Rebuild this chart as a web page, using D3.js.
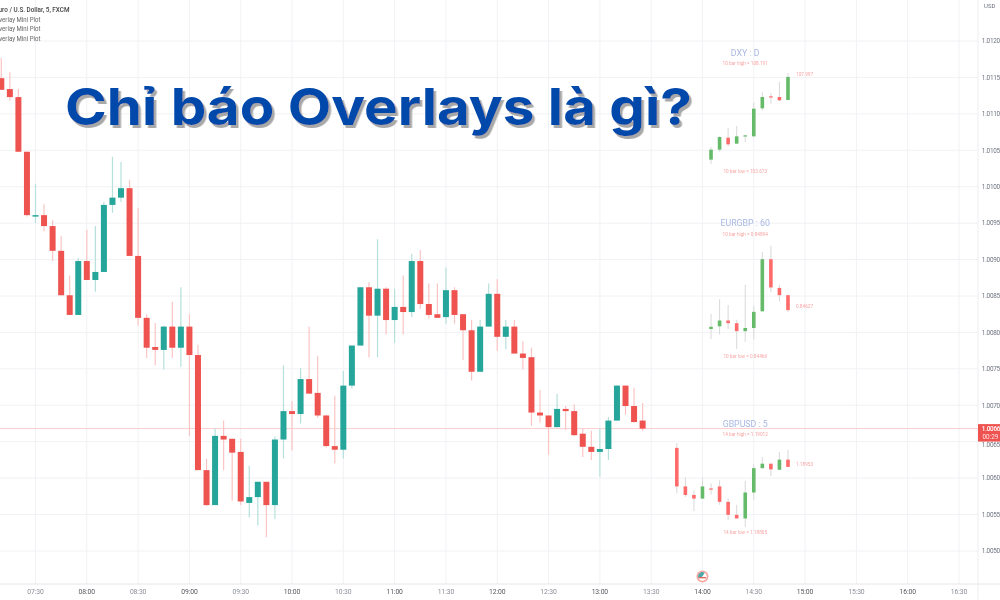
<!DOCTYPE html>
<html><head><meta charset="utf-8">
<script src="https://cdn.jsdelivr.net/npm/d3@7"></script>
<style>html,body{margin:0;padding:0;background:#fff;overflow:hidden}svg{display:block}</style>
</head><body><svg id="c" width="1000" height="600"></svg>
<script>
const titleText = "Chỉ báo Overlays là gì?";
const legendLines = ["Euro / U.S. Dollar, 5, FXCM","Overlay Mini Plot","Overlay Mini Plot","Overlay Mini Plot"];
const priceTicks = [1.0050,1.0055,1.0060,1.0065,1.0070,1.0075,1.0080,1.0085,1.0090,1.0095,1.0100,1.0105,1.0110,1.0115,1.0120];
const timeTicks = ["07:30","08:00","08:30","09:00","09:30","10:00","10:30","11:00","11:30","12:00","12:30","13:00","13:30","14:00","14:30","15:00","15:30","16:00","16:30"];
const lastPrice = 1.00668, lastLabel = "1.0066", countdown = "00:29";
const mainStart = "07:10";
const mainOpen = [1.01149,1.01134,1.01123,1.01048,1.00960,1.00961,1.00946,1.00912,1.00851,1.00824,1.00898,1.00872,1.00883,1.00975,1.00985,1.00998,1.00905,1.00820,1.00780,1.00776,1.00808,1.00779,1.00808,1.00769,1.00611,1.00563,1.00658,1.00654,1.00636,1.00566,1.00574,1.00595,1.00563,1.00653,1.00692,1.00688,1.00736,1.00717,1.00686,1.00644,1.00639,1.00727,1.00782,1.00862,1.00823,1.00860,1.00817,1.00835,1.00828,1.00898,1.00839,1.00825,1.00821,1.00858,1.00825,1.00803,1.00746,1.00808,1.00853,1.00794,1.00808,1.00771,1.00766,1.00690,1.00686,1.00670,1.00695,1.00692,1.00661,1.00643,1.00636,1.00640,1.00679,1.00727,1.00699,1.00679];
const mainHigh = [1.01177,1.01157,1.01134,1.01048,1.01004,1.00976,1.00954,1.00932,1.00878,1.00902,1.00941,1.00946,1.00979,1.01041,1.01034,1.01009,1.00971,1.00825,1.00813,1.00809,1.00842,1.00862,1.00825,1.00783,1.00627,1.00668,1.00679,1.00654,1.00654,1.00617,1.00595,1.00595,1.00657,1.00755,1.00706,1.00751,1.00808,1.00768,1.00687,1.00713,1.00747,1.00782,1.00862,1.00869,1.00928,1.00862,1.00860,1.00878,1.00908,1.00913,1.00867,1.00867,1.00889,1.00862,1.00825,1.00817,1.00817,1.00867,1.00873,1.00817,1.00817,1.00788,1.00779,1.00721,1.00686,1.00716,1.00699,1.00701,1.00668,1.00665,1.00668,1.00684,1.00727,1.00727,1.00724,1.00703];
const mainLow = [1.01133,1.01118,1.01048,1.00959,1.00950,1.00939,1.00898,1.00851,1.00824,1.00824,1.00872,1.00856,1.00883,1.00964,1.00979,1.00905,1.00809,1.00765,1.00755,1.00749,1.00765,1.00753,1.00658,1.00611,1.00562,1.00563,1.00611,1.00569,1.00563,1.00546,1.00535,1.00519,1.00544,1.00627,1.00638,1.00675,1.00716,1.00683,1.00642,1.00620,1.00627,1.00723,1.00782,1.00766,1.00766,1.00797,1.00786,1.00797,1.00821,1.00832,1.00819,1.00820,1.00812,1.00812,1.00762,1.00734,1.00746,1.00808,1.00775,1.00777,1.00771,1.00749,1.00672,1.00676,1.00632,1.00670,1.00666,1.00658,1.00629,1.00625,1.00602,1.00625,1.00679,1.00687,1.00676,1.00665];
const mainClose = [1.01133,1.01123,1.01048,1.00961,1.00961,1.00946,1.00912,1.00851,1.00824,1.00898,1.00872,1.00883,1.00975,1.00985,1.00998,1.00905,1.00820,1.00779,1.00776,1.00808,1.00779,1.00808,1.00769,1.00611,1.00563,1.00658,1.00653,1.00635,1.00568,1.00574,1.00595,1.00563,1.00653,1.00692,1.00688,1.00736,1.00716,1.00686,1.00644,1.00639,1.00727,1.00782,1.00862,1.00823,1.00860,1.00817,1.00835,1.00828,1.00898,1.00839,1.00824,1.00820,1.00858,1.00824,1.00803,1.00746,1.00808,1.00853,1.00794,1.00808,1.00771,1.00765,1.00690,1.00686,1.00670,1.00695,1.00692,1.00659,1.00643,1.00636,1.00640,1.00679,1.00727,1.00699,1.00677,1.00668];

const dxyName="DXY : D", dxyHighText="10 bar high = 108.191", dxyLowText="10 bar low = 103.673", dxyLastText="107.997", dxyStart="14:05";
const dxyOpen=[103.888,104.385,104.980,104.682,105.063,105.047,106.437,107.033,107.000,106.850];
const dxyHigh=[104.517,105.047,105.477,105.560,105.129,106.735,107.231,107.198,107.761,108.191];
const dxyLow=[103.673,104.285,104.550,104.682,104.749,105.013,106.321,106.668,106.801,106.850];
const dxyClose=[104.385,105.013,104.649,105.047,105.096,106.420,107.000,107.000,106.834,107.997];

const eurName="EURGBP : 60", eurHighText="10 bar high = 0.84894", eurLowText="10 bar low = 0.84466", eurLastText="0.84627", eurStart="14:05";
const eurOpen=[0.84549,0.84560,0.84584,0.84573,0.84540,0.84553,0.84622,0.84838,0.84719,0.84689];
const eurHigh=[0.84611,0.84672,0.84648,0.84587,0.84732,0.84645,0.84868,0.84894,0.84732,0.84692];
const eurLow=[0.84507,0.84527,0.84549,0.84466,0.84496,0.84505,0.84622,0.84700,0.84663,0.84619];
const eurClose=[0.84558,0.84584,0.84573,0.84540,0.84553,0.84620,0.84838,0.84721,0.84689,0.84627];

const gbpName="GBPUSD : 5", gbpHighText="14 bar high = 1.19012", gbpLowText="14 bar low = 1.18805", gbpLastText="1.18953", gbpStart="13:45";
const gbpOpen=[1.19000,1.18905,1.18884,1.18875,1.18900,1.18905,1.18867,1.18835,1.18826,1.18890,1.18950,1.18961,1.18946,1.18971];
const gbpHigh=[1.19012,1.18927,1.18895,1.18927,1.18913,1.18920,1.18875,1.18860,1.18919,1.18959,1.18977,1.18961,1.18990,1.18995];
const gbpLow=[1.18889,1.18879,1.18844,1.18875,1.18885,1.18860,1.18822,1.18826,1.18805,1.18872,1.18948,1.18930,1.18946,1.18953];
const gbpClose=[1.18905,1.18884,1.18875,1.18905,1.18898,1.18867,1.18835,1.18826,1.18890,1.18950,1.18961,1.18947,1.18971,1.18953];

const font="'Roboto','Liberation Sans',sans-serif";
const svg=d3.select("#c");
const defs=svg.append("defs");
defs.append("filter").attr("id","soft").attr("x","-5%").attr("y","-5%").attr("width","110%").attr("height","110%")
  .append("feGaussianBlur").attr("stdDeviation",0.55);
defs.append("filter").attr("id","softer").attr("x","-5%").attr("y","-5%").attr("width","110%").attr("height","110%")
  .append("feGaussianBlur").attr("stdDeviation",0.6);
const shadow=defs.append("filter").attr("id","shade").attr("x","-5%").attr("y","-20%").attr("width","110%").attr("height","140%");
shadow.append("feDropShadow").attr("dx",2.5).attr("dy",3).attr("stdDeviation",0.7).attr("flood-color","#a8a8a8");

const parse=d3.timeParse("%H:%M");
const x=d3.scaleTime().domain([parse("07:30"),parse("16:30")]).range([35.5,959]);
const y=d3.scaleLinear().domain([1.0050,1.0120]).range([551,41]);
const plotR=978, axisY=584;
const addMin=(s,m)=>d3.timeMinute.offset(parse(s),m);

const root=svg.append("g").attr("filter","url(#soft)");
// grid
root.append("g").selectAll("line").data(timeTicks).join("line")
  .attr("x1",d=>x(parse(d))).attr("x2",d=>x(parse(d))).attr("y1",0).attr("y2",axisY).attr("stroke","#f1f2f5");
root.append("g").selectAll("line").data(priceTicks).join("line")
  .attr("x1",0).attr("x2",plotR).attr("y1",d=>y(d)).attr("y2",d=>y(d)).attr("stroke","#f1f2f5");
root.append("line").attr("x1",0).attr("x2",1000).attr("y1",axisY).attr("y2",axisY).attr("stroke","#e6e6e9");
root.append("line").attr("x1",plotR).attr("x2",plotR).attr("y1",0).attr("y2",600).attr("stroke","#eeeef1");

// main candles
const main=mainOpen.map((o,i)=>({t:addMin(mainStart,5*i),o,h:mainHigh[i],l:mainLow[i],c:mainClose[i]}));
root.append("line").attr("x1",0).attr("x2",plotR).attr("y1",y(lastPrice)).attr("y2",y(lastPrice)).attr("stroke","#f9cfcf");
const mg=root.append("g").selectAll("g").data(main).join("g");
mg.append("line").attr("x1",d=>x(d.t)).attr("x2",d=>x(d.t)).attr("y1",d=>y(d.h)).attr("y2",d=>y(d.l))
  .attr("stroke",d=>d.c>=d.o?"#b5e0db":"#fbc4c4").attr("stroke-width",1.2);
mg.append("rect").attr("x",d=>x(d.t)-3).attr("width",6)
  .attr("y",d=>y(Math.max(d.o,d.c))).attr("height",d=>Math.max(1.5,Math.abs(y(d.o)-y(d.c))))
  .attr("fill",d=>d.c>=d.o?"#26a69a":"#ef5350");

// axis labels
const labels=root.append("g").attr("font-family",font);
labels.selectAll(".p").data(priceTicks).join("text").attr("class","p")
  .attr("x",981.8).attr("y",d=>y(d)+(d===1.0065?5:2.3)).attr("font-size",6.4).attr("letter-spacing",-0.25).attr("fill","#6f7380")
  .text(d=>d.toFixed(4));
labels.append("text").attr("x",984).attr("y",8).attr("font-size",6).attr("fill","#6f7380").text("USD");
labels.selectAll(".t").data(timeTicks).join("text").attr("class","t")
  .attr("x",d=>x(parse(d))).attr("y",594).attr("text-anchor","middle").attr("font-size",6.8).attr("letter-spacing",-0.1)
  .attr("fill",d=>d.endsWith(":00")?"#55595f":"#8b8f98").text(d=>d);
// last price tag
const tag=root.append("g");
tag.append("rect").attr("x",plotR).attr("y",y(lastPrice)-4.5).attr("width",22).attr("height",17.5).attr("fill","#ef5350");
tag.append("text").attr("x",981.8).attr("y",y(lastPrice)+2.5).attr("font-family",font).attr("font-size",6.4).attr("letter-spacing",-0.25).attr("font-weight",500).attr("fill","#fff")
  .text(lastLabel);
tag.append("text").attr("x",982.5).attr("y",y(lastPrice)+10.5).attr("font-family",font).attr("font-size",6.4).attr("fill","#ffe5e5")
  .text(countdown);

// legend
labels.selectAll(".lg").data(legendLines).join("text").attr("class","lg")
  .attr("x",-5).attr("y",(d,i)=>12+i*9.55)
  .attr("textLength",(d,i)=>i?45.5:74.5).attr("lengthAdjust","spacingAndGlyphs")
  .attr("font-size",7.6).attr("font-weight",(d,i)=>i?400:500).attr("fill",(d,i)=>i?"#666":"#444").text(d=>d);

// earnings badge
const badgeT=parse("14:00");
const bg=root.append("g").attr("transform",`translate(${x(badgeT)},576.5)`);
bg.append("circle").attr("r",6).attr("fill","#f7a8a2");
bg.append("circle").attr("r",4.3).attr("fill","#fff");
bg.append("path").attr("d",d3.arc()({innerRadius:0,outerRadius:4.3,startAngle:-Math.PI/2,endAngle:Math.PI/2-0.6})).attr("fill","#4fa7a8").attr("transform","rotate(-25)");
bg.append("rect").attr("x",-3.6).attr("y",0.6).attr("width",7.2).attr("height",1.2).attr("fill","#e8544e");

// overlay mini plots
const mini=root.append("g").attr("filter","url(#softer)");
function drawMini(cfg){
  const s=d3.scaleLinear().domain([d3.min(cfg.l),d3.max(cfg.h)]).range(cfg.range);
  const data=cfg.o.map((o,i)=>({t:addMin(cfg.start,5*i),o,h:cfg.h[i],l:cfg.l[i],c:cfg.c[i]}));
  const g=mini.append("g");
  const k=g.selectAll("g").data(data).join("g");
  k.append("line").attr("x1",d=>x(d.t)).attr("x2",d=>x(d.t)).attr("y1",d=>s(d.h)).attr("y2",d=>s(d.l)).attr("stroke","#dcdcdc").attr("stroke-width",1.1);
  k.append("rect").attr("x",d=>x(d.t)-1.8).attr("width",3.6).attr("y",d=>s(Math.max(d.o,d.c)))
    .attr("height",d=>Math.max(1.2,Math.abs(s(d.o)-s(d.c)))).attr("fill",d=>d.c>=d.o?"#66bb6a":"#ff6b6b");
  const cx=x(addMin("14:05",20));
  g.append("text").attr("x",cx).attr("y",cfg.ty).attr("text-anchor","middle").attr("font-family",font).attr("font-size",8.8).attr("fill","#a9b9e3").text(cfg.name);
  g.append("text").attr("x",cx).attr("y",cfg.hy).attr("text-anchor","middle").attr("font-family",font).attr("font-size",4.7).attr("fill","#f8a5a5").text(cfg.ht);
  g.append("text").attr("x",cx).attr("y",cfg.ly).attr("text-anchor","middle").attr("font-family",font).attr("font-size",4.7).attr("fill","#f8a5a5").text(cfg.lt);
  g.append("text").attr("x",796).attr("y",s(cfg.c[cfg.c.length-1])+cfg.dy).attr("font-family",font).attr("font-size",4.7).attr("fill","#f8a5a5").text(cfg.lastT);
}
drawMini({name:dxyName,ht:dxyHighText,lt:dxyLowText,lastT:dxyLastText,start:dxyStart,o:dxyOpen,h:dxyHigh,l:dxyLow,c:dxyClose,range:[164,73],ty:56,hy:65,ly:173,dy:-1});
drawMini({name:eurName,ht:eurHighText,lt:eurLowText,lastT:eurLastText,start:eurStart,o:eurOpen,h:eurHigh,l:eurLow,c:eurClose,range:[349,245.7],ty:225.5,hy:236,ly:358,dy:-2});
drawMini({name:gbpName,ht:gbpHighText,lt:gbpLowText,lastT:gbpLastText,start:gbpStart,o:gbpOpen,h:gbpHigh,l:gbpLow,c:gbpClose,range:[527,443],ty:427,hy:436,ly:534,dy:-1});

// headline
svg.append("text").attr("x",65).attr("y",125).attr("textLength",627).attr("lengthAdjust","spacingAndGlyphs")
  .attr("font-family","Inter,'Open Sans',sans-serif").attr("font-weight",700).attr("font-size",51)
  .attr("fill","#0449ab").attr("filter","url(#shade)").text(titleText);
</script></body></html>
